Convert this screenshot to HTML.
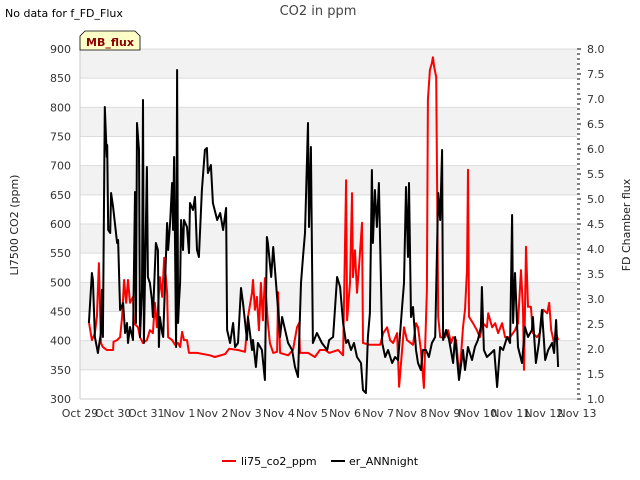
<!DOCTYPE html>
<html><head><meta charset="utf-8">
<style>
body{margin:0;background:#fff;}
svg{display:block;font-family:"DejaVu Sans","Liberation Sans",sans-serif;}
</style></head>
<body>
<svg id="chart" width="640" height="480" viewBox="0 0 640 480" xmlns="http://www.w3.org/2000/svg">
<g id="bands"></g>
<g id="grid"></g>
<line x1="80" y1="49" x2="80" y2="399" stroke="#ccc" stroke-width="1"/>
<line x1="80" y1="399" x2="577" y2="399" stroke="#ccc" stroke-width="1"/>
<g id="series"></g>
<g id="yticks"></g>
<g id="rticks"></g>
<g id="xticks"></g>
<text x="318" y="15" text-anchor="middle" font-size="13" fill="#444">CO2 in ppm</text>
<text x="5" y="17" font-size="11" fill="#000">No data for f_FD_Flux</text>
<text transform="translate(18,225) rotate(-90)" text-anchor="middle" font-size="11" fill="#222">LI7500 CO2 (ppm)</text>
<text transform="translate(630,225) rotate(-90)" text-anchor="middle" font-size="11" fill="#222">FD Chamber flux</text>
<g>
<path d="M80,50 L80,36 L85,31 L135,31 L140,36 L140,50 Z" fill="#ffffc8" stroke="#000" stroke-width="0.8"/>
<text x="110" y="46" text-anchor="middle" font-size="11" font-weight="bold" fill="#8b0000">MB_flux</text>
</g>
<g>
<g>
<line x1="222" y1="461" x2="236" y2="461" stroke="#e00" stroke-width="2"/>
<text x="241" y="465" font-size="11" fill="#000">li75_co2_ppm</text>
</g>
<g>
<line x1="331" y1="461" x2="345" y2="461" stroke="#000" stroke-width="2"/>
<text x="349" y="465" font-size="11" fill="#000">er_ANNnight</text>
</g>
</g>
</svg>
<script>
const xLabels=["Oct 29","Oct 30","Oct 31","Nov 1","Nov 2","Nov 3","Nov 4","Nov 5","Nov 6","Nov 7","Nov 8","Nov 9","Nov 10","Nov 11","Nov 12","Nov 13"];
const leftTicks=[300,350,400,450,500,550,600,650,700,750,800,850,900];
const rightTicks=[1.0,1.5,2.0,2.5,3.0,3.5,4.0,4.5,5.0,5.5,6.0,6.5,7.0,7.5,8.0];
const redDays=[.27,.36,.45,.51,.57,.63,.69,.81,1.00,1.01,1.12,1.21,1.27,1.33,1.39,1.45,1.51,1.60,1.63,1.75,1.81,1.90,2.02,2.11,2.20,2.26,2.32,2.41,2.48,2.54,2.63,2.66,2.78,2.87,2.96,3.02,3.08,3.14,3.23,3.29,3.53,3.92,4.07,4.38,4.50,4.77,4.98,5.07,5.19,5.22,5.28,5.34,5.40,5.46,5.52,5.58,5.67,5.73,5.83,5.95,5.98,6.04,6.28,6.43,6.55,6.61,6.64,6.88,7.09,7.24,7.40,7.52,7.79,7.94,8.03,8.06,8.15,8.21,8.24,8.30,8.36,8.42,8.51,8.54,8.75,9.06,9.15,9.27,9.36,9.45,9.57,9.63,9.72,9.78,9.87,10.05,10.14,10.20,10.29,10.38,10.47,10.50,10.56,10.62,10.65,10.69,10.75,10.81,10.87,11.02,11.11,11.20,11.26,11.35,11.41,11.47,11.56,11.62,11.68,11.71,11.74,11.86,11.98,12.07,12.16,12.28,12.32,12.44,12.53,12.62,12.74,12.83,12.98,13.13,13.22,13.31,13.37,13.40,13.46,13.52,13.61,13.67,13.79,13.88,13.98,14.10,14.16,14.22,14.31,14.37,14.43];
const redValues=[432,401,413,441,533,396,389,384,384,398,401,406,441,504,465,504,465,475,430,423,406,396,401,418,413,465,423,509,475,542,482,406,401,393,396,389,415,401,401,379,379,375,372,377,386,384,381,441,482,504,453,475,418,499,435,507,430,396,379,381,483,379,375,384,423,430,379,379,372,384,384,379,384,375,675,435,499,653,509,555,482,526,602,396,393,393,413,423,401,396,413,321,384,423,401,393,430,423,384,319,487,813,864,876,886,869,852,441,406,406,418,396,406,401,362,350,423,453,521,693,441,430,418,406,430,423,447,423,430,413,430,406,406,418,430,521,453,350,561,458,458,413,406,413,453,447,465,418,396,413,401];
const blackDays=[.27,.36,.39,.45,.54,.63,.66,.69,.75,.81,.82,.85,.91,.94,1.00,1.12,1.15,1.21,1.30,1.36,1.42,1.45,1.51,1.60,1.66,1.69,1.72,1.78,1.81,1.87,1.90,1.93,2.02,2.05,2.11,2.17,2.20,2.29,2.35,2.38,2.41,2.48,2.51,2.63,2.66,2.72,2.78,2.81,2.84,2.90,2.93,2.96,2.99,3.02,3.05,3.11,3.14,3.23,3.29,3.32,3.41,3.47,3.53,3.59,3.68,3.77,3.83,3.86,3.95,4.01,4.14,4.23,4.32,4.41,4.44,4.53,4.62,4.68,4.77,4.86,4.92,5.04,5.07,5.19,5.22,5.31,5.37,5.49,5.58,5.64,5.67,5.77,5.83,5.95,6.04,6.10,6.19,6.28,6.40,6.49,6.58,6.67,6.73,6.79,6.88,6.91,6.97,7.03,7.15,7.30,7.46,7.52,7.64,7.76,7.85,7.94,8.03,8.09,8.18,8.27,8.36,8.48,8.54,8.63,8.69,8.75,8.81,8.84,8.90,8.96,9.02,9.12,9.21,9.30,9.42,9.51,9.60,9.72,9.78,9.84,9.90,9.93,9.99,10.05,10.14,10.20,10.29,10.35,10.44,10.53,10.62,10.72,10.81,10.87,10.93,10.96,11.05,11.14,11.26,11.32,11.44,11.56,11.62,11.71,11.83,11.92,12.01,12.10,12.13,12.19,12.28,12.41,12.50,12.59,12.68,12.77,12.89,12.98,13.04,13.07,13.13,13.22,13.34,13.43,13.52,13.64,13.67,13.76,13.85,13.94,14.04,14.13,14.25,14.31,14.37,14.43];
const blackValues=[2.52,3.52,3.38,2.24,1.92,2.32,3.18,2.24,6.84,5.84,6.08,4.38,4.32,5.12,4.84,4.12,4.18,2.78,2.92,2.32,2.52,2.12,2.44,2.18,5.14,2.52,6.52,5.98,2.24,3.18,6.98,2.12,5.64,3.44,3.32,2.98,2.64,4.12,3.98,2.04,2.64,2.32,2.24,4.52,3.98,4.52,5.32,4.38,5.84,2.04,7.58,2.52,2.98,3.32,4.58,3.98,4.58,4.44,3.92,4.92,4.78,5.04,3.98,3.84,5.18,5.98,6.02,5.52,5.68,4.92,4.58,4.72,4.38,4.82,2.38,2.12,2.52,2.04,2.12,3.22,2.92,2.18,2.64,1.98,2.18,1.64,2.12,1.98,1.38,4.24,4.12,3.44,4.04,3.04,2.24,2.64,2.38,2.12,1.98,1.64,1.44,3.32,3.84,4.32,6.52,4.44,6.04,2.12,2.32,2.12,1.98,2.18,2.24,3.44,3.24,2.52,2.12,2.18,1.98,2.12,1.84,1.72,1.18,1.12,2.24,2.72,5.58,4.12,5.18,4.44,5.32,2.12,1.84,1.98,1.72,1.84,1.78,2.84,3.32,5.24,3.84,5.32,2.64,2.84,1.98,1.72,1.58,1.98,1.98,1.84,2.12,2.24,5.12,4.58,5.98,2.18,2.38,2.18,1.72,2.24,1.38,1.98,1.58,2.04,1.78,2.04,2.18,2.44,3.24,1.98,1.84,1.92,1.98,1.24,2.04,1.98,2.24,2.12,4.68,2.52,3.52,2.04,1.72,2.44,2.24,2.38,2.64,1.72,2.12,2.78,1.78,1.98,2.12,1.92,2.58,1.64];

const X0=80,X1=577,Y0=49,Y1=399;
const xScale=d=>X0+d*(X1-X0)/15;
const yLeft=v=>Y1-(v-300)*(Y1-Y0)/600;
const yRight=v=>Y1-(v-1)*(Y1-Y0)/7;
const NS="http://www.w3.org/2000/svg";
function mk(tag,attrs,parent){const e=document.createElementNS(NS,tag);for(const k in attrs)e.setAttribute(k,attrs[k]);parent.appendChild(e);return e;}

const bands=document.getElementById('bands');
for(let v=350;v<=850;v+=100){
  const r=mk('rect',{x:X0,y:yLeft(v+50),width:X1-X0,height:yLeft(v)-yLeft(v+50),fill:'#f2f2f2'},bands);
  
  
}
const grid=document.getElementById('grid');
const yt=document.getElementById('yticks');
leftTicks.forEach(v=>{
  const y=yLeft(v);
  if(v>300){const l=mk('line',{x1:X0,x2:X1,y1:y,y2:y,stroke:'#dcdcdc','stroke-width':1},grid);
  
  }
  const t=mk('text',{x:71,y:y+4,'text-anchor':'end','font-size':11,fill:'#333'},yt);
  t.textContent=v;
  
  
});
const rt=document.getElementById('rticks');
for(let i=10;i<=80;i++){
  const v=i/10,y=yRight(v);
  const major=(i%5===0);
  const l=mk('line',{x1:X1,x2:X1+(major?4:3),y1:y,y2:y,stroke:'#000','stroke-width':1},rt);
  
  
}
rightTicks.forEach(v=>{
  const t=mk('text',{x:587,y:yRight(v)+4,'font-size':11,fill:'#333'},rt);
  t.textContent=v.toFixed(1);
  
  
});
const xt=document.getElementById('xticks');
xLabels.forEach((s,i)=>{
  const t=mk('text',{x:xScale(i),y:417,'text-anchor':'middle','font-size':11,fill:'#333'},xt);
  t.textContent=s;
  
  
});
const ser=document.getElementById('series');
const redPts=redDays.map((d,i)=>xScale(d).toFixed(1)+','+yLeft(redValues[i]).toFixed(1)).join(' ');
const red=mk('polyline',{points:redPts,fill:'none',stroke:'#ff0000','stroke-width':2,'stroke-linejoin':'round'},ser);


const blkPts=blackDays.map((d,i)=>xScale(d).toFixed(1)+','+yRight(blackValues[i]).toFixed(1)).join(' ');
const blk=mk('polyline',{points:blkPts,fill:'none',stroke:'#000','stroke-width':2,'stroke-linejoin':'round'},ser);


</script>
</body></html>
